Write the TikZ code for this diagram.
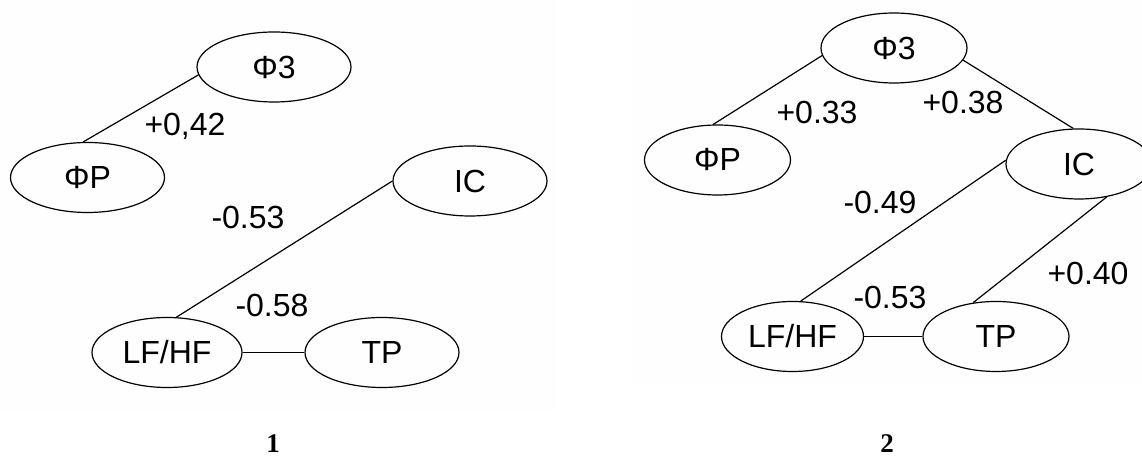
\documentclass[tikz,border=0pt]{standalone}
\usepackage{fontspec}
\setmainfont{Liberation Sans}
\newfontfamily\captfont{Liberation Serif}
\usetikzlibrary{shapes.geometric}

\begin{document}
\begin{tikzpicture}[x=0.5pt,y=-0.5pt,line width=0.6pt,
	fac/.style={ellipse,draw,inner sep=0pt,minimum width=#1,minimum height=35pt,font=\fontsize{16}{19}\selectfont},
	fac/.default=77pt,
	corr/.style={inner sep=0pt,font=\fontsize{16}{19}\selectfont},
	capt/.style={inner sep=0pt,font=\captfont\bfseries\fontsize{13.5}{16}\selectfont}]
	\useasboundingbox (0,0) rectangle (1142,458);
	\fill[gray!1] (0,0) rectangle (557,411);
	\fill[gray!1] (633,0) rectangle (1142,384);
	% panel 1
	\node[fac] (phiA) at (274,67) {Φ3};
	\node[fac] (phipA) at (87.5,177.5) {ΦP};
	\node[fac] (icA) at (470,181) {IC};
	\node[fac=75pt] (lfA) at (167,352.5) {LF/HF};
	\node[fac] (tpA) at (382,352.5) {TP};
	\draw (phiA.186) -- (phipA.97);
	\draw (icA.180) -- (lfA.75);
	\draw (lfA.east) -- (tpA.west);
	\node[corr] (cA1) at (185,126) {+0,42};
	\node[corr] (cA2) at (248,217) {-0.53};
	\node[corr] (cA3) at (272,305) {-0.58};
	\node[capt] (captA) at (273,444) {1};
	% panel 2
	\node[fac=73pt] (phiB) at (894,48) {Φ3};
	\node[fac=73pt] (phipB) at (717.5,160) {ΦP};
	\node[fac=73pt] (icB) at (1079,164) {IC};
	\node[fac=71pt] (lfB) at (792.5,336.5) {LF/HF};
	\node[fac=73pt] (tpB) at (996,336.5) {TP};
	\draw (phiB.186) -- (phipB.97);
	\draw (phiB.350) -- (icB.99);
	\draw (icB.177) -- (lfB.77);
	\draw (icB.310) -- (tpB.124);
	\draw (lfB.east) -- (tpB.west);
	\node[corr] (cB1) at (817,112) {+0.33};
	\node[corr] (cB2) at (963,102) {+0.38};
	\node[corr] (cB3) at (880,202) {-0.49};
	\node[corr] (cB4) at (890,297) {-0.53};
	\node[corr] (cB5) at (1088,273) {+0.40};
	\node[capt] (captB) at (887,444) {2};
\end{tikzpicture}
\end{document}
